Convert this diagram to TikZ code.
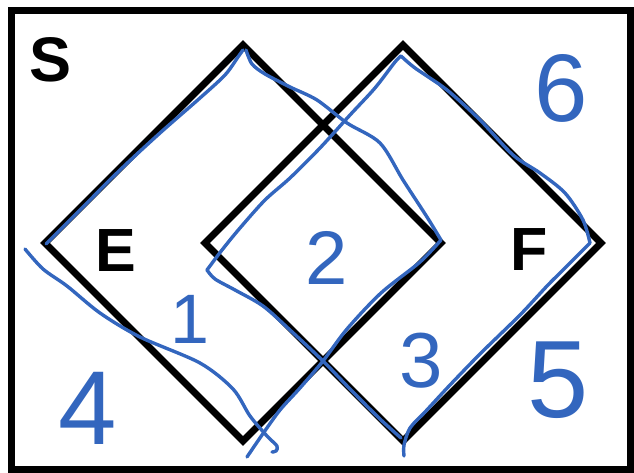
\documentclass[tikz,border=0pt]{standalone}
\usepackage{fontspec}
\setmainfont{Liberation Sans}
\definecolor{ink}{RGB}{51,102,190}
\begin{document}
\begin{tikzpicture}[x=1pt,y=-1pt,
  frame/.style={draw=black,line width=7pt},
  setline/.style={draw=black,line width=7pt,line join=miter},
  pen/.style={draw=ink,line width=3.4pt,line cap=round,line join=round},
  setlabel/.style={font=\fontsize{61}{61}\selectfont\bfseries,inner sep=0pt},
  digit/.style={text=ink,inner sep=0pt}]
\useasboundingbox (0,0) rectangle (634,473);
\draw[frame] (11,11) rectangle (630,469.5);
\draw[setline] (243,45) -- (441,243) -- (243,441) -- (45,243) -- cycle;
\draw[setline] (403,45) -- (601,243) -- (403,441) -- (205,243) -- cycle;
% labels
\node[setlabel,font=\fontsize{63}{63}\selectfont\bfseries] (S) at (51,60) {S};
\node[setlabel] (E) at (116,251) {E};
\node[setlabel] (F) at (529,250) {F};
% blue strokes: E outline trace
\draw[pen] plot[smooth,tension=0.5] coordinates {(46,244) (80,210) (120,170) (160,133) (200,98) (225,75) (238,57) (243,50)};
\draw[pen] plot[smooth,tension=0.5] coordinates {(246,50) (252,64) (265,74) (290,87) (317,100) (347,123) (380,143) (403,180) (427,217) (441,240)};
\draw[pen] plot[smooth,tension=0.5] coordinates {(441,240) (420,262) (381,293) (347,329) (323,361) (300,388) (280,410) (262,435) (247,457)};
% blue strokes: F outline trace
\draw[pen] plot[smooth,tension=0.5] coordinates {(401,438) (380,419) (350,389) (323,361) (290,330) (263,306) (235,290) (215,279) (207,270)};
\draw[pen] plot[smooth,tension=0.5] coordinates {(207,270) (222,250) (240,228) (265,200) (290,178) (320,148) (350,115) (375,88) (395,62) (401,56)};
\draw[pen] plot[smooth,tension=0.5] coordinates {(401,56) (415,68) (447,90) (480,120) (513,155) (540,173) (565,193) (583,220) (590,243)};
\draw[pen] plot[smooth,tension=0.5] coordinates {(590,243) (563,270) (547,286) (520,315) (481,353) (450,385) (425,412) (410,428) (404,445) (404,456)};
% blue stroke: outside boundary
\draw[pen] plot[smooth,tension=0.5] coordinates {(25,249) (43,269) (67,286) (100,313) (140,337) (200,363) (233,389) (250,416) (267,436) (277,446) (276,451) (272,452)};
% digits
\node[digit,font=\fontsize{70}{70}\selectfont] (n1) at (190,319) {1};
\node[digit,font=\fontsize{76}{76}\selectfont] (n2) at (327,258) {2};
\node[digit,font=\fontsize{78}{78}\selectfont] (n3) at (421,361) {3};
\node[digit,font=\fontsize{105}{105}\selectfont] (n4) at (88,408) {4};
\node[digit,font=\fontsize{110}{110}\selectfont] (n5) at (558,380) {5};
\node[digit,font=\fontsize{96}{96}\selectfont] (n6) at (561,88) {6};
\end{tikzpicture}
\end{document}
